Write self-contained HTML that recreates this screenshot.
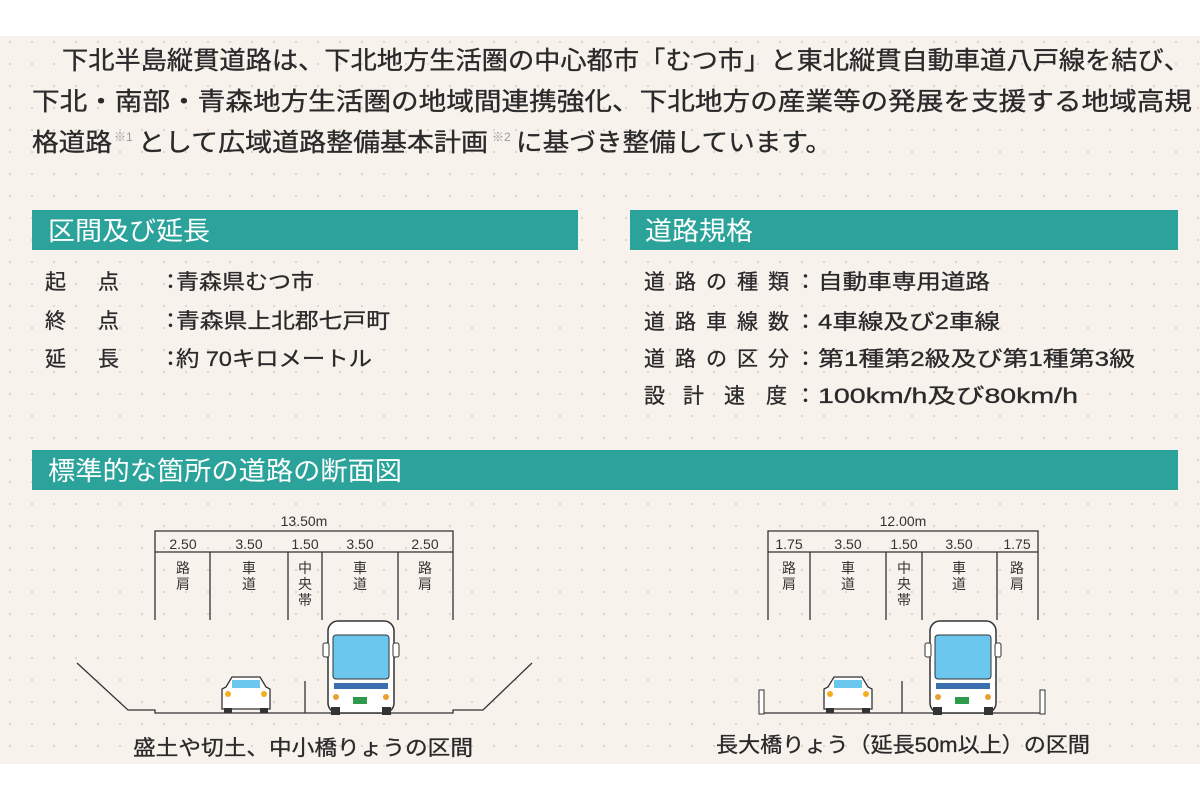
<!DOCTYPE html>
<html><head><meta charset="utf-8"><style>
html,body{margin:0;padding:0;background:#fff;}
svg{display:block;font-family:"Liberation Sans","Noto Sans CJK JP",sans-serif;}
</style></head><body>
<svg width="1200" height="800" viewBox="0 0 1200 800" xmlns="http://www.w3.org/2000/svg">
<defs>
<pattern id="dots" width="22" height="22" patternUnits="userSpaceOnUse" x="8" y="40">
<circle cx="2" cy="2" r="1.1" fill="#ddd2ca"/>
</pattern>
<g id="bus">
<rect x="0" y="0" width="66" height="92" rx="10" fill="#fff" stroke="#333" stroke-width="1.5"/>
<rect x="5" y="14" width="56" height="44" rx="3" fill="#6cc7ee" stroke="#333" stroke-width="1"/>
<rect x="-5" y="22" width="6" height="14" rx="2" fill="#fff" stroke="#333"/>
<rect x="65" y="22" width="6" height="14" rx="2" fill="#fff" stroke="#333"/>
<rect x="6" y="62" width="54" height="6" fill="#3a6fb0"/>
<rect x="25" y="76" width="14" height="7" fill="#2e9b4a"/>
<circle cx="8" cy="76" r="3" fill="#e8a030"/><circle cx="58" cy="76" r="3" fill="#e8a030"/>
<rect x="3" y="86" width="9" height="8" fill="#333"/><rect x="54" y="86" width="9" height="8" fill="#333"/>
</g>
<g id="car">
<path d="M6 12 L12 2 L40 2 L46 12 L50 14 L50 34 L2 34 L2 14 Z" fill="#fff" stroke="#333" stroke-width="1.3"/>
<rect x="12" y="5" width="28" height="8" fill="#6cc7ee"/>
<circle cx="8" cy="19" r="3" fill="#f0b020"/><circle cx="44" cy="19" r="3" fill="#f0b020"/>
<rect x="4" y="33" width="8" height="5" fill="#333"/><rect x="40" y="33" width="8" height="5" fill="#333"/>
</g>
</defs>
<rect x="0" y="36" width="1200" height="728" fill="#f8f2ed"/>
<rect x="0" y="36" width="1200" height="728" fill="url(#dots)"/>

<g font-size="25" fill="#2a2a2a" stroke="#2a2a2a" stroke-width="0.35">
<text x="62" y="69" textLength="1128" lengthAdjust="spacingAndGlyphs">下北半島縦貫道路は、下北地方生活圏の中心都市「むつ市」と東北縦貫自動車道八戸線を結び、</text>
<text x="32" y="110" textLength="1160" lengthAdjust="spacingAndGlyphs">下北・南部・青森地方生活圏の地域間連携強化、下北地方の産業等の発展を支援する地域高規</text>
<text x="32" y="151" textLength="80" lengthAdjust="spacingAndGlyphs">格道路</text>
<text x="114" y="141" font-size="12" fill="#999" stroke="none">※1</text>
<text x="138" y="151" textLength="350" lengthAdjust="spacingAndGlyphs">として広域道路整備基本計画</text>
<text x="492" y="141" font-size="12" fill="#999" stroke="none">※2</text>
<text x="516" y="151" textLength="316" lengthAdjust="spacingAndGlyphs">に基づき整備しています。</text>
</g>

<rect x="32" y="210" width="546" height="40" fill="#2ba39a"/>
<rect x="630" y="210" width="548" height="40" fill="#2ba39a"/>
<rect x="32" y="450" width="1146" height="40" fill="#2ba39a"/>
<g font-size="26" fill="#fff">
<text x="48" y="240" textLength="162" lengthAdjust="spacingAndGlyphs">区間及び延長</text>
<text x="645" y="240" textLength="108" lengthAdjust="spacingAndGlyphs">道路規格</text>
<text x="48" y="480" textLength="354" lengthAdjust="spacingAndGlyphs">標準的な箇所の道路の断面図</text>
</g>

<g font-size="21" fill="#2a2a2a" stroke="#2a2a2a" stroke-width="0.3">
<text x="45" y="289">起</text><text x="98" y="289">点</text><text x="160" y="289">：</text><text x="176" y="289" textLength="138" lengthAdjust="spacingAndGlyphs">青森県むつ市</text>
<text x="45" y="328">終</text><text x="98" y="328">点</text><text x="160" y="328">：</text><text x="176" y="328" textLength="214" lengthAdjust="spacingAndGlyphs">青森県上北郡七戸町</text>
<text x="45" y="366">延</text><text x="98" y="366">長</text><text x="160" y="366">：</text><text x="176" y="366" textLength="196" lengthAdjust="spacingAndGlyphs">約 70キロメートル</text>

<text x="644" y="289" textLength="145" lengthAdjust="spacing">道路の種類</text><text x="795" y="289">：</text><text x="818" y="289" textLength="172" lengthAdjust="spacingAndGlyphs">自動車専用道路</text>
<text x="644" y="329" textLength="145" lengthAdjust="spacing">道路車線数</text><text x="795" y="329">：</text><text x="818" y="329" textLength="182" lengthAdjust="spacingAndGlyphs">4車線及び2車線</text>
<text x="644" y="366" textLength="145" lengthAdjust="spacing">道路の区分</text><text x="795" y="366">：</text><text x="818" y="366" textLength="317" lengthAdjust="spacingAndGlyphs">第1種第2級及び第1種第3級</text>
<text x="644" y="403">設</text><text x="683" y="403">計</text><text x="724" y="403">速</text><text x="766" y="403">度</text><text x="795" y="403">：</text><text x="818" y="403" textLength="260" lengthAdjust="spacingAndGlyphs">100km/h及び80km/h</text>
</g>

<!-- Left diagram -->
<g stroke="#333" stroke-width="1.3" fill="none">
<path d="M155 620 V531 H453 V620"/>
<path d="M155 552 H453"/>
<path d="M210 552 V620 M288 552 V620 M322 552 V620 M398 552 V620"/>
<path d="M77 663 L128 710 L155 710 L155 713 L453 713 L453 710 L483 710 L532 663"/>
<path d="M305 681 V713"/>
</g>
<g font-size="14" fill="#333" text-anchor="middle">
<text x="304" y="526">13.50m</text>
<text x="183" y="549">2.50</text><text x="249" y="549">3.50</text><text x="305" y="549">1.50</text><text x="360" y="549">3.50</text><text x="425" y="549">2.50</text>
</g>
<g font-size="14" fill="#333" text-anchor="middle">
<text x="183" y="573">路</text><text x="183" y="589">肩</text>
<text x="249" y="573">車</text><text x="249" y="589">道</text>
<text x="305" y="573">中</text><text x="305" y="589">央</text><text x="305" y="605">帯</text>
<text x="360" y="573">車</text><text x="360" y="589">道</text>
<text x="425" y="573">路</text><text x="425" y="589">肩</text>
</g>
<use href="#bus" x="328" y="621"/>
<use href="#car" x="220" y="675"/>
<text x="133" y="755" font-size="21" fill="#2a2a2a" stroke="#2a2a2a" stroke-width="0.3" textLength="340" lengthAdjust="spacingAndGlyphs">盛土や切土、中小橋りょうの区間</text>

<!-- Right diagram -->
<g stroke="#333" stroke-width="1.3" fill="none">
<path d="M768 620 V531 H1038 V620"/>
<path d="M768 552 H1038"/>
<path d="M810 552 V620 M886 552 V620 M922 552 V620 M997 552 V620"/>
<path d="M761 713 H1045"/>
<path d="M902 681 V713"/>
</g>
<rect x="759" y="690" width="5" height="24" fill="#fff" stroke="#333"/>
<rect x="1040" y="690" width="5" height="24" fill="#fff" stroke="#333"/>
<g font-size="14" fill="#333" text-anchor="middle">
<text x="903" y="526">12.00m</text>
<text x="789" y="549">1.75</text><text x="848" y="549">3.50</text><text x="904" y="549">1.50</text><text x="959" y="549">3.50</text><text x="1017" y="549">1.75</text>
<text x="789" y="573">路</text><text x="789" y="589">肩</text>
<text x="848" y="573">車</text><text x="848" y="589">道</text>
<text x="904" y="573">中</text><text x="904" y="589">央</text><text x="904" y="605">帯</text>
<text x="959" y="573">車</text><text x="959" y="589">道</text>
<text x="1017" y="573">路</text><text x="1017" y="589">肩</text>
</g>
<use href="#bus" x="930" y="621"/>
<use href="#car" x="822" y="675"/>
<text x="716" y="752" font-size="21" fill="#2a2a2a" stroke="#2a2a2a" stroke-width="0.3" textLength="374" lengthAdjust="spacingAndGlyphs">長大橋りょう（延長50m以上）の区間</text>
</svg>
</body></html>
